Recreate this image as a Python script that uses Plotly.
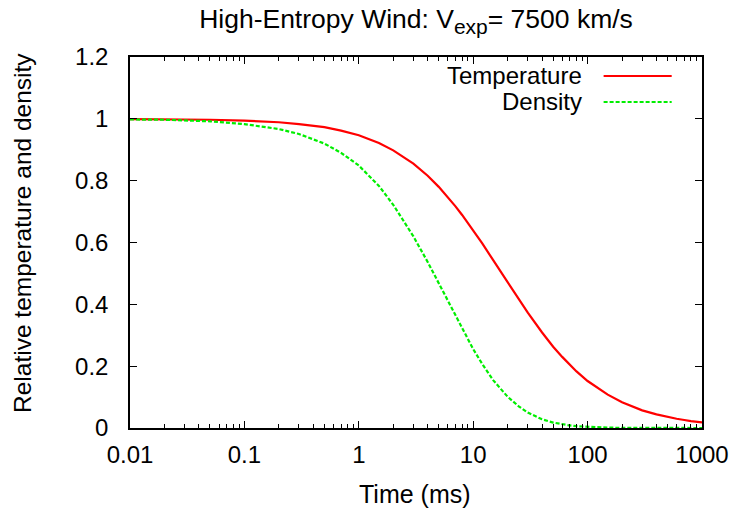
import plotly.graph_objects as go

# ---- data ----
time_ms = [0.01, 0.02, 0.05, 0.1, 0.2, 0.3, 0.5, 0.7, 1, 1.5, 2, 3, 4, 5, 6, 7, 8, 10,
           12, 15, 20, 25, 30, 40, 50, 60, 70, 80, 100, 120, 150, 200, 250, 300, 400,
           500, 600, 700, 800, 1000]
temperature = [0.999, 0.999, 0.997, 0.994, 0.989, 0.983, 0.973, 0.962, 0.947, 0.922,
               0.898, 0.855, 0.816, 0.780, 0.747, 0.717, 0.689, 0.640, 0.597, 0.542,
               0.471, 0.417, 0.373, 0.309, 0.263, 0.230, 0.204, 0.183, 0.152, 0.131,
               0.108, 0.083, 0.068, 0.057, 0.044, 0.035, 0.030, 0.026, 0.022, 0.018]
density = [0.998, 0.997, 0.992, 0.983, 0.967, 0.951, 0.920, 0.890, 0.849, 0.783,
           0.722, 0.620, 0.537, 0.468, 0.411, 0.362, 0.321, 0.255, 0.207, 0.154,
           0.101, 0.070, 0.050, 0.028, 0.0175, 0.0118, 0.0082, 0.0059, 0.0034, 0.0021,
           0.0012, 0.0005, 0.0003, 0.0002, 0.0001, 0.0, 0.0, 0.0, 0.0, 0.0]

x_tickvals = [0.01, 0.1, 1, 10, 100, 1000]
x_ticktext = ["0.01", "0.1", "1", "10", "100", "1000"]
y_tickvals = [0, 0.2, 0.4, 0.6, 0.8, 1.0, 1.2]
y_ticktext = ["0", "0.2", "0.4", "0.6", "0.8", "1", "1.2"]
series_names = ["Temperature", "Density"]
minor_x = [m * 10 ** d for d in range(-2, 3) for m in range(2, 10)]

FONT = "Liberation Sans, Arial, sans-serif"
RED = "#ff0000"
GREEN = "#00ee00"

fig = go.Figure()
fig.add_trace(go.Scatter(x=time_ms, y=temperature, mode="lines", name=series_names[0],
                         line=dict(color=RED, width=2.2), showlegend=False))
fig.add_trace(go.Scatter(x=time_ms, y=density, mode="lines", name=series_names[1],
                         line=dict(color=GREEN, width=2.2, dash="4px,2px"), showlegend=False))

# gnuplot-style key: text on the left, sample line on the right
key_rows = [(series_names[0], RED, "solid", 0.949), (series_names[1], GREEN, "4px,2px", 0.879)]
for name, col, dash, yy in key_rows:
    fig.add_annotation(text=name, xref="paper", yref="paper", x=0.794, y=yy,
                       xanchor="right", yanchor="middle", showarrow=False,
                       font=dict(family=FONT, size=24, color="black"))
    fig.add_shape(type="line", xref="paper", yref="paper", x0=0.828, x1=0.947, y0=yy, y1=yy,
                  line=dict(color=col, width=2, dash=dash))

# axis titles
fig.add_annotation(text="Time (ms)", xref="paper", yref="paper", x=0.499, y=-0.178,
                   xanchor="center", yanchor="middle", showarrow=False,
                   font=dict(family=FONT, size=25, color="black"))
fig.add_annotation(text="Relative temperature and density", xref="paper", yref="paper",
                   x=-0.188, y=0.527, xanchor="center", yanchor="middle", textangle=-90,
                   showarrow=False, font=dict(family=FONT, size=24.5, color="black"))

fig.update_layout(
    width=733, height=504,
    margin=dict(l=122, r=34, t=49, b=84),
    paper_bgcolor="white", plot_bgcolor="white",
    font=dict(family=FONT, size=24, color="black"),
    title=dict(text="High-Entropy Wind: V<sub><span style='font-size:21px'>exp</span></sub>= 7500 km/s",
               x=0.5, xref="paper", xanchor="center", y=0.978, yanchor="middle",
               font=dict(family=FONT, size=26.5, color="black")),
)
fig.update_xaxes(type="log", range=[-2, 3], tickvals=x_tickvals, ticktext=x_ticktext,
                 ticks="inside", ticklen=7, tickwidth=1.2, tickcolor="black",
                 showline=True, linecolor="black", linewidth=1.5, mirror="allticks",
                 showgrid=False, zeroline=False, ticklabelstandoff=4,
                 minor=dict(tickvals=minor_x, ticks="inside", ticklen=4, tickcolor="black",
                            tickwidth=1, showgrid=False))
fig.update_yaxes(range=[0, 1.2], tickvals=y_tickvals, ticktext=y_ticktext,
                 ticks="inside", ticklen=7, tickwidth=1.2, tickcolor="black",
                 showline=True, linecolor="black", linewidth=1.5, mirror="allticks",
                 showgrid=False, zeroline=False, ticklabelstandoff=15)

fig.write_html("out.html")
